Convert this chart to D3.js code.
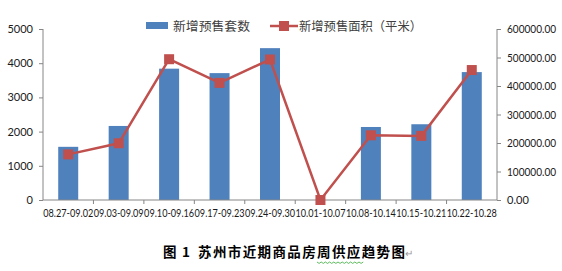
<!DOCTYPE html>
<html><head><meta charset="utf-8">
<script src="https://cdn.jsdelivr.net/npm/d3@7"></script>
<style>body{margin:0;background:#fff}svg{display:block}</style>
</head><body>
<script>
const categories = ["08.27-09.02","09.03-09.09","09.10-09.16","09.17-09.23","09.24-09.30","10.01-10.07","10.08-10.14","10.15-10.21","10.22-10.28"];
const units = [1555, 2165, 3840, 3710, 4440, 0, 2135, 2215, 3740];
const area = [160000, 199000, 494000, 411000, 493000, 0, 227000, 225000, 456000];
const leftTicks = [0,1000,2000,3000,4000,5000];
const rightTicks = [0,100000,200000,300000,400000,500000,600000];
const seriesNames = ["新增预售套数","新增预售面积（平米）"];
const captionLabel = "图 1";
const captionText = "苏州市近期商品房周供应趋势图";

const W=562,H=271;
const svg=d3.select("body").append("svg").attr("width",W).attr("height",H);
const x0=43,x1=497,yTop=29,yBot=200;
const xb=d3.scaleBand().domain(categories).range([x0,x1]);
const yL=d3.scaleLinear().domain([0,5000]).range([yBot,yTop]);
const yR=d3.scaleLinear().domain([0,600000]).range([yBot,yTop]);
const axisCol="#868686", font="Lato, 'Liberation Sans', sans-serif";

svg.selectAll("rect.bar").data(units).join("rect")
 .attr("x",(d,i)=>xb(categories[i])+xb.bandwidth()/2-10).attr("width",20)
 .attr("y",d=>yL(d)).attr("height",d=>yBot-yL(d)).attr("fill","#4F81BD");

const gL=svg.append("g").attr("transform",`translate(${x0},0)`)
 .call(d3.axisLeft(yL).tickValues(leftTicks).tickSize(4).tickPadding(6).tickFormat(d3.format("d")));
const gR=svg.append("g").attr("transform",`translate(${x1},0)`)
 .call(d3.axisRight(yR).tickValues(rightTicks).tickSize(4).tickPadding(6).tickFormat(d3.format(".2f")));
const gB=svg.append("g").attr("transform",`translate(0,${yBot})`)
 .call(d3.axisBottom(xb).tickSize(0).tickPadding(9));
[gL,gR,gB].forEach(g=>{
 g.select(".domain").attr("stroke",axisCol).attr("stroke-width",1);
 g.selectAll(".tick line").attr("stroke",axisCol);
 g.selectAll("text").attr("fill","#1a1a1a").style("font-family",font).style("font-size","11px");
});
gB.selectAll(".tick text").attr("textLength",50).attr("lengthAdjust","spacingAndGlyphs");
gR.selectAll(".tick text").each(function(){
  const t=d3.select(this); t.attr("textLength",t.text().length*5.45).attr("lengthAdjust","spacingAndGlyphs");
});
gL.selectAll(".tick text").each(function(){
  const t=d3.select(this); t.attr("textLength",t.text().length*6.4).attr("lengthAdjust","spacingAndGlyphs");
});
gL.select(".domain").attr("d",`M0,${yTop}V${yBot}`);
gR.select(".domain").attr("d",`M0,${yTop}V${yBot}`);
gB.select(".domain").attr("d",`M${x0},0H${x1}`);
svg.append("g").selectAll("line").data(categories.slice(1)).join("line")
 .attr("x1",d=>xb(d)).attr("x2",d=>xb(d)).attr("y1",yBot).attr("y2",yBot+4).attr("stroke",axisCol);

const cx=(i)=>xb(categories[i])+xb.bandwidth()/2;
svg.append("path").datum(area)
 .attr("d",d3.line().x((d,i)=>cx(i)).y(d=>yR(d)))
 .attr("fill","none").attr("stroke","#C0504D").attr("stroke-width",2.5);
svg.selectAll("rect.pt").data(area).join("rect")
 .attr("x",(d,i)=>cx(i)-5).attr("y",d=>yR(d)-5).attr("width",10).attr("height",10)
 .attr("fill","#C0504D");

const lf="'Noto Sans CJK SC', sans-serif";
svg.append("rect").attr("x",146).attr("y",22).attr("width",22).attr("height",7).attr("fill","#4F81BD");
svg.append("text").attr("x",173).attr("y",30.5).text(seriesNames[0]).attr("fill","#404040").style("font-family",lf).style("font-size","12.5px")
 .attr("textLength",77).attr("lengthAdjust","spacingAndGlyphs");
svg.append("line").attr("x1",270).attr("x2",298).attr("y1",26).attr("y2",26).attr("stroke","#C0504D").attr("stroke-width",2.5);
svg.append("rect").attr("x",279).attr("y",21).attr("width",10).attr("height",10).attr("fill","#C0504D");
svg.append("text").attr("x",299).attr("y",30.5).text(seriesNames[1]).attr("fill","#404040").style("font-family",lf).style("font-size","12.5px")
 .attr("textLength",123).attr("lengthAdjust","spacingAndGlyphs");

const cf={"font-family":lf,"font-size":"13.5px","font-weight":"bold"};
const c1=svg.append("text").attr("x",163).attr("y",257).text(captionLabel).attr("fill","#000")
 .attr("textLength",27).attr("lengthAdjust","spacing");
const c2=svg.append("text").attr("x",198).attr("y",257).text(captionText).attr("fill","#000")
 .attr("textLength",207).attr("lengthAdjust","spacing");
[c1,c2].forEach(t=>Object.entries(cf).forEach(([k,v])=>t.style(k,v)));
svg.append("text").attr("x",405).attr("y",257).text("↵").attr("fill","#999").style("font-family",lf).style("font-size","10px");
const pts=[];
for(let i=0;i<=22;i++) pts.push([317+i*2.1, 262+(i%2?1.4:0)]);
svg.append("path").attr("d",d3.line()(pts)).attr("fill","none").attr("stroke","#3a3").attr("stroke-width",0.8);
</script>
</body></html>
